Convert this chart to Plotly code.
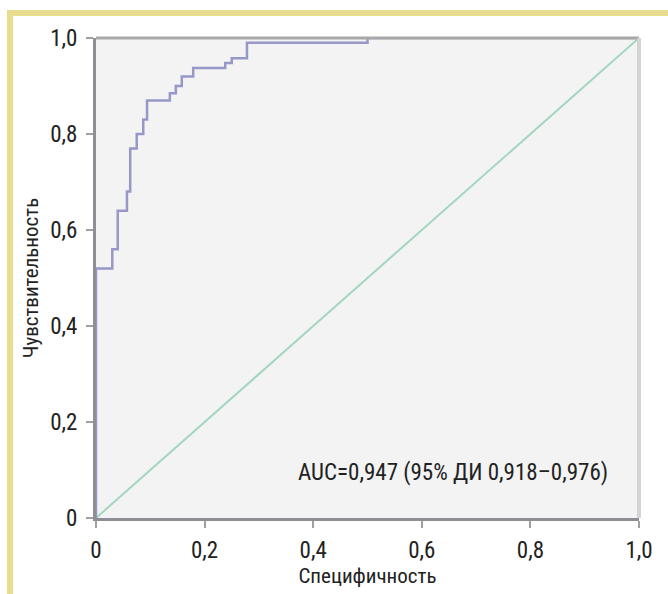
import plotly.graph_objects as go

# ROC curve corner points (false positive rate = 1 - specificity, sensitivity)
fpr = [0, 0, 0, 0.03, 0.04, 0.057, 0.063, 0.075, 0.087, 0.094, 0.136, 0.147,
       0.158, 0.179, 0.238, 0.25, 0.278, 0.5, 1.0]
tpr = [0, 0.47, 0.52, 0.56, 0.64, 0.68, 0.77, 0.80, 0.83, 0.87, 0.885, 0.90,
       0.92, 0.9375, 0.948, 0.958, 0.99, 1.0, 1.0]

ref_x = [0, 1]
ref_y = [0, 1]

tick_vals = [0, 0.2, 0.4, 0.6, 0.8, 1.0]
tick_text = ["0", "0,2", "0,4", "0,6", "0,8", "1,0"]

x_title = "Специфичность"
y_title = "Чувствительность"
auc_text = "AUC=0,947 (95% ДИ 0,918–0,976)"

FONT = "Liberation Sans Narrow, Arial Narrow, Roboto Condensed, Liberation Sans, sans-serif"

W, H = 668, 594
L, R, T, B = 96, 29, 38, 76
pw, ph = W - L - R, H - T - B


def px_x(p):
    return (p - L) / pw


def px_y(p):
    return (H - B - p) / ph


fig = go.Figure()
fig.add_trace(go.Scatter(x=ref_x, y=ref_y, mode="lines",
                         line=dict(color="#a3d6bf", width=2), hoverinfo="skip"))
fig.add_trace(go.Scatter(x=fpr, y=tpr, mode="lines", line_shape="hv",
                         line=dict(color="#9898c8", width=2.5), hoverinfo="skip"))

fig.add_annotation(x=0.368, y=0.094, xref="x", yref="y", text=auc_text,
                   showarrow=False, xanchor="left", yanchor="middle",
                   font=dict(family=FONT, size=23, color="#222"))

axis_common = dict(range=[0, 1], tickvals=tick_vals, ticktext=tick_text,
                   showgrid=False, zeroline=False, showline=True,
                   linecolor="#8e8e94", linewidth=3, ticks="outside",
                   ticklen=7, tickwidth=2, tickcolor="#a0a0a0",
                   tickfont=dict(family=FONT, size=23, color="#222"))

fig.update_layout(
    width=W, height=H,
    margin=dict(l=L, r=R, t=T, b=B, autoexpand=False),
    paper_bgcolor="white", plot_bgcolor="#f3f3f3",
    showlegend=False,
    xaxis=dict(**axis_common, ticklabelstandoff=2,
               title=dict(text=x_title, standoff=0,
                          font=dict(family=FONT, size=21, color="#222"))),
    yaxis=dict(**axis_common, ticklabelstandoff=4,
               title=dict(text=y_title, standoff=6,
                          font=dict(family=FONT, size=21, color="#222"))),
    shapes=[
        # top and right frame lines of plot
        dict(type="line", xref="paper", yref="paper", x0=0, x1=1, y0=1, y1=1,
             line=dict(color="#a8a8a8", width=3), layer="above"),
        dict(type="line", xref="paper", yref="paper", x0=1, x1=1, y0=0, y1=1,
             line=dict(color="#d4d4d4", width=4), layer="above"),
        # yellow page frame
        dict(type="rect", xref="paper", yref="paper",
             x0=px_x(7), x1=px_x(13), y0=px_y(H), y1=px_y(10),
             fillcolor="#e8dc8e", line=dict(width=0)),
        dict(type="rect", xref="paper", yref="paper",
             x0=px_x(7), x1=px_x(W), y0=px_y(16), y1=px_y(10),
             fillcolor="#e8dc8e", line=dict(width=0)),
    ],
)

fig.write_html("out.html", config={"displayModeBar": False},
               post_script="document.body.style.margin='0';document.body.style.overflow='hidden';")
